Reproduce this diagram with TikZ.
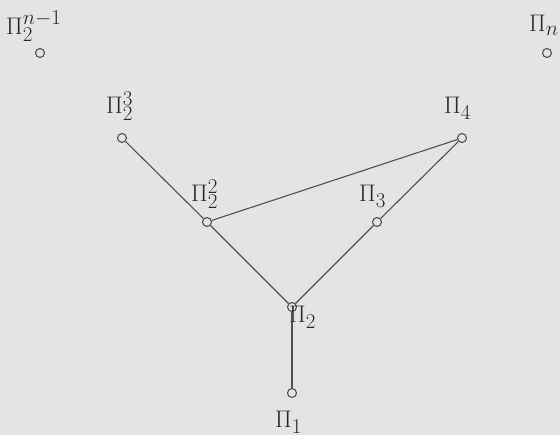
\documentclass[tikz,border=0pt]{standalone}
\usepackage{fix-cm}
\DeclareMathSizes{24}{24}{21}{16}
\begin{document}
\begin{tikzpicture}[x=1pt,y=-1pt,
  vtx/.style={circle,draw=vline,fill=bg,line width=1.1pt,minimum size=9pt,inner sep=0pt},
  lab/.style={anchor=base west,inner sep=0pt,text=txt,font=\fontsize{24}{28}\selectfont},
  edge/.style={draw=vline,line width=1.1pt}]
\definecolor{bg}{RGB}{228,228,230}
\definecolor{txt}{RGB}{40,40,40}
\definecolor{vline}{RGB}{80,80,80}
\useasboundingbox[fill=bg] (0,0) rectangle (560,435);
% vertices
\node[vtx] (A) at (40,53) {};
\node[vtx] (B) at (547,53) {};
\node[vtx] (C) at (122,138) {};
\node[vtx] (D) at (462,138) {};
\node[vtx] (E) at (207,222) {};
\node[vtx] (F) at (377,222) {};
\node[vtx] (G) at (292,307) {};
\node[vtx] (H) at (292,393) {};
% labels
\node[lab] (lA) at (6,35) {$\Pi_2^{n-1}$};
\node[lab] (lB) at (529,32) {$\Pi_n$};
\node[lab] (lC) at (106,114) {$\Pi_2^3$};
\node[lab] (lD) at (444,114) {$\Pi_4$};
\node[lab] (lE) at (191,202) {$\Pi_2^2$};
\node[lab] (lF) at (359,202) {$\Pi_3$};
\node[lab] (lG) at (289,323) {$\Pi_2$};
\node[lab] (lH) at (275,428) {$\Pi_1$};
% edges
\path[edge] (C) -- (E);
\path[edge] (D) -- (E);
\path[edge] (D) -- (F);
\path[edge] (E) -- (G);
\path[edge] (F) -- (G);
\path[edge] (G) -- (H);
\end{tikzpicture}
\end{document}
